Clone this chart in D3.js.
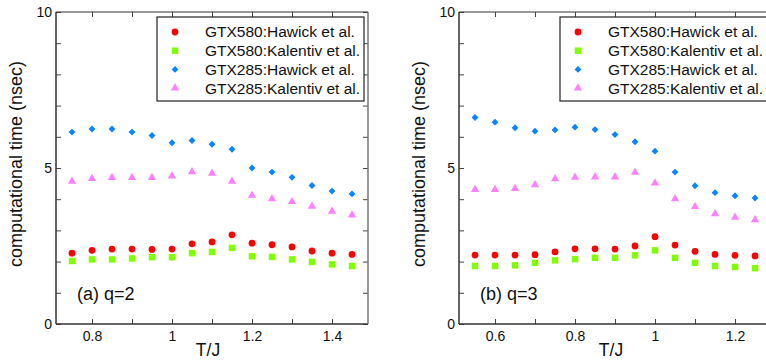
<!DOCTYPE html>
<html>
<head>
<meta charset="utf-8">
<script src="https://cdn.jsdelivr.net/npm/d3@7"></script>
<style>
  body { margin: 0; background: #fff; }
  svg { font-family: "Liberation Sans", Arial, sans-serif; }
</style>
</head>
<body>
<div id="chart"></div>
<script>
// temperatures (T/J)
const tempQ2 = [0.75, 0.8, 0.85, 0.9, 0.95, 1.0, 1.05, 1.1, 1.15, 1.2, 1.25, 1.3, 1.35, 1.4, 1.45];
const tempQ3 = [0.55, 0.6, 0.65, 0.7, 0.75, 0.8, 0.85, 0.9, 0.95, 1.0, 1.05, 1.1, 1.15, 1.2, 1.25];

// q=2 panel, nsec
const q2_580_hawick   = [2.27, 2.36, 2.40, 2.40, 2.39, 2.40, 2.57, 2.63, 2.86, 2.59, 2.54, 2.47, 2.34, 2.27, 2.23];
const q2_580_kalentiv = [2.02, 2.07, 2.07, 2.10, 2.14, 2.14, 2.27, 2.31, 2.44, 2.17, 2.15, 2.07, 1.99, 1.91, 1.86];
const q2_285_hawick   = [6.15, 6.25, 6.25, 6.15, 6.04, 5.81, 5.88, 5.76, 5.60, 5.00, 4.87, 4.70, 4.44, 4.26, 4.17];
const q2_285_kalentiv = [4.57, 4.66, 4.69, 4.69, 4.69, 4.74, 4.88, 4.83, 4.57, 4.12, 4.01, 3.92, 3.77, 3.61, 3.49];

// q=3 panel, nsec
const q3_580_hawick   = [2.21, 2.21, 2.21, 2.22, 2.31, 2.41, 2.41, 2.40, 2.50, 2.80, 2.53, 2.33, 2.23, 2.20, 2.18];
const q3_580_kalentiv = [1.86, 1.86, 1.88, 1.96, 2.04, 2.08, 2.12, 2.12, 2.20, 2.36, 2.12, 1.96, 1.86, 1.83, 1.79];
const q3_285_hawick   = [6.62, 6.47, 6.29, 6.18, 6.22, 6.31, 6.23, 6.07, 5.84, 5.54, 4.87, 4.43, 4.21, 4.11, 4.04];
const q3_285_kalentiv = [4.31, 4.31, 4.34, 4.46, 4.65, 4.70, 4.71, 4.71, 4.86, 4.52, 4.01, 3.76, 3.53, 3.42, 3.34];

const seriesNames = ["GTX580:Hawick et al.", "GTX580:Kalentiv et al.", "GTX285:Hawick et al.", "GTX285:Kalentiv et al."];
const yLabelTicks = [0, 5, 10];
const yMinorTicks = [0, 1, 2, 3, 4, 5, 6, 7, 8, 9, 10];
const xLabelsQ2 = [0.8, 1.0, 1.2, 1.4];
const xMinorQ2 = [0.8, 0.9, 1.0, 1.1, 1.2, 1.3, 1.4];
const xLabelsQ3 = [0.6, 0.8, 1.0, 1.2];
const xMinorQ3 = [0.6, 0.7, 0.8, 0.9, 1.0, 1.1, 1.2];

const colors = ["#ff0000", "#80ff00", "#0a84ff", "#ff80ff"];
const shapes = [d3.symbolCircle, d3.symbolSquare, d3.symbolDiamond2, d3.symbolTriangle];
const sizes = [36, 42, 30, 30];

const svg = d3.select("#chart").append("svg")
  .attr("width", 766).attr("height", 360);

function panel(opts) {
  const w = 312, h = 312;
  const g = svg.append("g").attr("transform", `translate(${opts.left},12)`);
  const x = d3.scaleLinear().domain(opts.xDomain).range([0, w]);
  const y = d3.scaleLinear().domain([0, 10]).range([h, 0]);
  const fmt = d => d3.format("~g")(d);

  // minor ticks on all four sides (inward)
  g.append("g").attr("transform", `translate(0,${h})`)
    .call(d3.axisBottom(x).tickValues(opts.xMinor).tickSize(-5).tickFormat(""));
  g.append("g")
    .call(d3.axisTop(x).tickValues(opts.xMinor).tickSize(-5).tickFormat(""));
  g.append("g")
    .call(d3.axisLeft(y).tickValues(yMinorTicks).tickSize(-5).tickFormat(""));
  g.append("g").attr("transform", `translate(${w},0)`)
    .call(d3.axisRight(y).tickValues(yMinorTicks).tickSize(-5).tickFormat(""));

  // labels
  g.append("g").attr("class", "lab").attr("transform", `translate(0,${h})`)
    .call(d3.axisBottom(x).tickValues(opts.xLabels).tickSize(0).tickPadding(7).tickFormat(fmt));
  g.append("g").attr("class", "lab")
    .call(d3.axisLeft(y).tickValues(yLabelTicks).tickSize(0).tickPadding(4).tickFormat(fmt));

  g.selectAll(".domain").remove();
  g.selectAll(".tick line").attr("stroke", "#444").attr("stroke-width", 1);
  g.selectAll(".lab text").attr("font-size", 14).attr("fill", "#111")
    .attr("font-family", "Liberation Sans, Arial, sans-serif");

  // frame
  g.append("line").attr("x1", 0).attr("x2", 0).attr("y1", 0).attr("y2", h)
    .attr("stroke", "#333").attr("stroke-width", 1.5);
  g.append("line").attr("x1", 0).attr("x2", w).attr("y1", h).attr("y2", h)
    .attr("stroke", "#333").attr("stroke-width", 1.5);
  g.append("line").attr("x1", 0).attr("x2", w).attr("y1", 0).attr("y2", 0)
    .attr("stroke", "#333").attr("stroke-width", 1.2);
  g.append("line").attr("x1", w).attr("x2", w).attr("y1", 0).attr("y2", h)
    .attr("stroke", "#777").attr("stroke-width", 1.5);

  // points
  opts.series.forEach((vals, si) => {
    g.append("g").selectAll("path")
      .data(vals)
      .enter().append("path")
      .attr("d", d3.symbol().type(shapes[si]).size(sizes[si]))
      .attr("transform", (d, i) => `translate(${x(opts.temps[i])},${y(d)})`)
      .attr("fill", colors[si]);
  });

  // legend
  const lg = g.append("g").attr("transform", `translate(${w - 211},5)`);
  lg.append("rect").attr("width", 207).attr("height", 84)
    .attr("fill", "#fff").attr("stroke", "#222").attr("stroke-width", 1.2);
  seriesNames.forEach((name, i) => {
    const yy = 15 + i * 18.7;
    lg.append("path")
      .attr("d", d3.symbol().type(shapes[i]).size(sizes[i]))
      .attr("transform", `translate(18,${yy})`)
      .attr("fill", colors[i]);
    lg.append("text").attr("x", 48).attr("y", yy).attr("dy", "0.35em")
      .attr("font-size", 15.5).attr("fill", "#111").text(name);
  });

  // panel tag
  g.append("text").attr("x", opts.tagX).attr("y", 288)
    .attr("font-size", 18).attr("fill", "#111").text(opts.tag);

  // axis titles
  g.append("text").attr("x", w / 2 - 4).attr("y", 344)
    .attr("text-anchor", "middle").attr("font-size", 17.5).attr("fill", "#111").text("T/J");
  g.append("text")
    .attr("transform", `translate(-34,${h / 2 - 4}) rotate(-90)`)
    .attr("text-anchor", "middle").attr("font-size", 18).attr("fill", "#111")
    .text("computational time (nsec)");
}

panel({
  left: 56, xDomain: [0.71, 1.49], xMinor: xMinorQ2, xLabels: xLabelsQ2,
  temps: tempQ2, series: [q2_580_hawick, q2_580_kalentiv, q2_285_hawick, q2_285_kalentiv],
  tag: "(a) q=2", tagX: 21
});
panel({
  left: 459, xDomain: [0.51, 1.29], xMinor: xMinorQ3, xLabels: xLabelsQ3,
  temps: tempQ3, series: [q3_580_hawick, q3_580_kalentiv, q3_285_hawick, q3_285_kalentiv],
  tag: "(b) q=3", tagX: 21
});
</script>
</body>
</html>
